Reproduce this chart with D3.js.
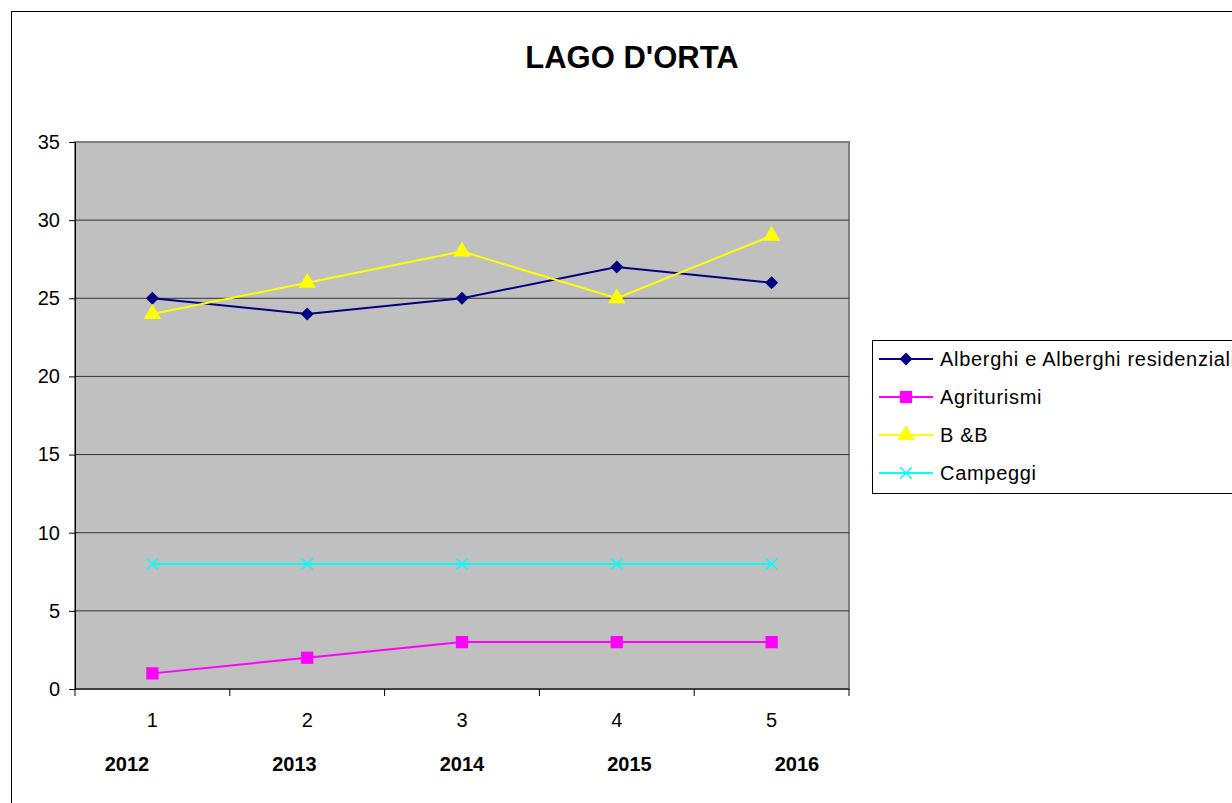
<!DOCTYPE html>
<html>
<head>
<meta charset="utf-8">
<script src="https://cdn.jsdelivr.net/npm/d3@7"></script>
<style>
body { margin: 0; background: #fff; }
svg { display: block; font-family: "Liberation Sans", Arial, sans-serif; }
</style>
</head>
<body>
<div id="chart"></div>
<script>
// chart data
var title = "LAGO D'ORTA";
var categories = ["1", "2", "3", "4", "5"];
var years = ["2012", "2013", "2014", "2015", "2016"];
var seriesNames = ["Alberghi e Alberghi residenziali", "Agriturismi", "B &B", "Campeggi"];
var alberghi = [25, 24, 25, 27, 26];
var agriturismi = [1, 2, 3, 3, 3];
var bb = [24, 26, 28, 25, 29];
var campeggi = [8, 8, 8, 8, 8];
var yTicks = [0, 5, 10, 15, 20, 25, 30, 35];

var colors = ["#000080", "#ff00ff", "#ffff00", "#00ffff"];
var symbols = [d3.symbolSquare, d3.symbolSquare, d3.symbolTriangle, d3.symbolX];
var symRot = [45, 0, 0, 0];
var symSizes = [85, 150, 130, 90];

var W = 1232, H = 803;
var plot = {left: 75, top: 142, right: 849, bottom: 689};

var svg = d3.select("#chart").append("svg")
	.attr("width", W)
	.attr("height", H);

// outer frame
svg.append("rect")
	.attr("x", 11.5).attr("y", 11.5)
	.attr("width", W + 10).attr("height", H + 10)
	.attr("fill", "none").attr("stroke", "#000").attr("stroke-width", 1);

svg.append("text")
	.attr("x", 632).attr("y", 68)
	.attr("text-anchor", "middle")
	.attr("font-size", 31).attr("font-weight", "bold")
	.text(title);

var x = d3.scaleBand().domain(categories).range([plot.left, plot.right]);
var y = d3.scaleLinear().domain([0, 35]).range([plot.bottom, plot.top]);

// plot area
svg.append("rect")
	.attr("x", plot.left).attr("y", plot.top)
	.attr("width", plot.right - plot.left).attr("height", plot.bottom - plot.top)
	.attr("fill", "#c0c0c0").attr("stroke", "#808080").attr("stroke-width", 2);

// gridlines
svg.append("g").selectAll("line")
	.data(yTicks.filter(function(d) { return d > 0 && d < 35; }))
	.enter().append("line")
	.attr("x1", plot.left).attr("x2", plot.right)
	.attr("y1", function(d) { return y(d); }).attr("y2", function(d) { return y(d); })
	.attr("stroke", "#333").attr("stroke-width", 1);

// y axis
var yAxis = svg.append("g")
	.attr("transform", "translate(" + plot.left + ",0)")
	.call(d3.axisLeft(y).tickValues(yTicks).tickSize(6).tickPadding(9));
yAxis.select(".domain").attr("stroke", "#000");
yAxis.selectAll("text").attr("font-size", 20).attr("fill", "#000").attr("font-family", "Liberation Sans, Arial, sans-serif");

// x axis: ticks at category boundaries
var xg = svg.append("g");
xg.append("line")
	.attr("x1", plot.left).attr("x2", plot.right)
	.attr("y1", plot.bottom).attr("y2", plot.bottom)
	.attr("stroke", "#000");
var bounds = categories.map(function(c) { return x(c); }).concat([x(categories[categories.length - 1]) + x.bandwidth()]);
xg.selectAll("line.tick").data(bounds).enter().append("line")
	.attr("class", "tick")
	.attr("x1", function(d) { return d; }).attr("x2", function(d) { return d; })
	.attr("y1", plot.bottom).attr("y2", plot.bottom + 7)
	.attr("stroke", "#000");
xg.selectAll("text.cat").data(categories).enter().append("text")
	.attr("class", "cat")
	.attr("x", function(d) { return x(d) + x.bandwidth() / 2; })
	.attr("y", 727)
	.attr("text-anchor", "middle").attr("font-size", 20)
	.text(function(d) { return d; });

// year labels row
var yearX = d3.scalePoint().domain(years).range([127, 797]);
svg.append("g").selectAll("text").data(years).enter().append("text")
	.attr("x", function(d) { return yearX(d); })
	.attr("y", 771)
	.attr("text-anchor", "middle").attr("font-size", 20).attr("font-weight", "bold")
	.text(function(d) { return d; });

// series
var series = [alberghi, agriturismi, bb, campeggi];
var line = d3.line()
	.x(function(d, i) { return x(categories[i]) + x.bandwidth() / 2; })
	.y(function(d) { return y(d); });

function marker(sel, k) {
	sel.attr("d", d3.symbol().type(symbols[k]).size(symSizes[k]))
		.attr("fill", k === 3 ? "none" : colors[k])
		.attr("stroke", colors[k]).attr("stroke-width", k === 3 ? 1.5 : 0);
}

series.forEach(function(s, k) {
	var g = svg.append("g");
	g.append("path").datum(s)
		.attr("d", line)
		.attr("fill", "none").attr("stroke", colors[k]).attr("stroke-width", 2);
	g.selectAll("path.m").data(s).enter().append("path")
		.attr("class", "m")
		.call(marker, k)
		.attr("transform", function(d, i) {
			return "translate(" + (x(categories[i]) + x.bandwidth() / 2) + "," + y(d) + ") rotate(" + symRot[k] + ")";
		});
});

// legend
var leg = svg.append("g");
leg.append("rect")
	.attr("x", 872.5).attr("y", 340.5)
	.attr("width", 400).attr("height", 153)
	.attr("fill", "#fff").attr("stroke", "#000").attr("stroke-width", 1);
seriesNames.forEach(function(name, k) {
	var cy = 359 + k * 38;
	leg.append("line")
		.attr("x1", 879).attr("x2", 933)
		.attr("y1", cy).attr("y2", cy)
		.attr("stroke", colors[k]).attr("stroke-width", 2);
	leg.append("path")
		.call(marker, k)
		.attr("transform", "translate(906," + cy + ") rotate(" + symRot[k] + ")");
	leg.append("text")
		.attr("x", 940).attr("y", cy + 7)
		.attr("font-size", 20).attr("letter-spacing", 0.7)
		.text(name);
});
</script>
</body>
</html>
